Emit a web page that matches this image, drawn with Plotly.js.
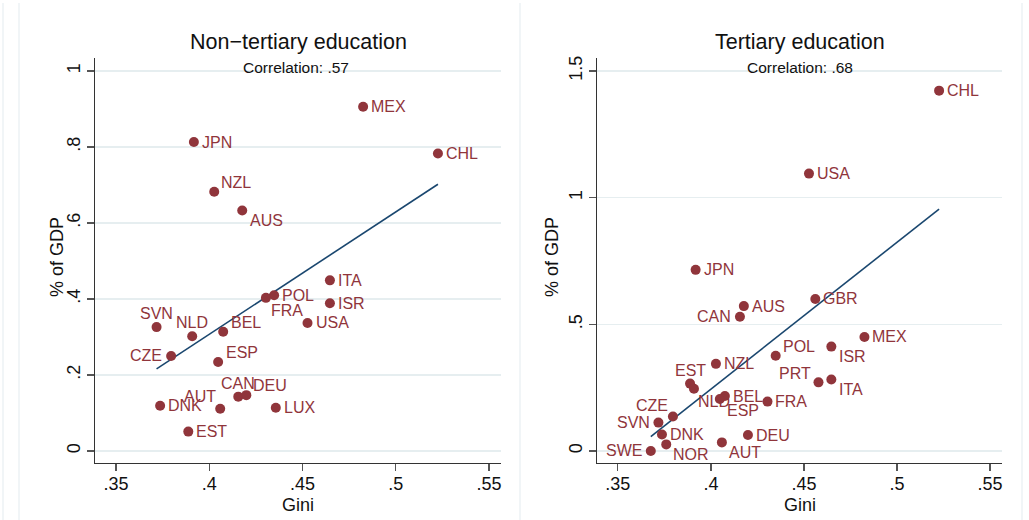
<!DOCTYPE html>
<html>
<head>
<meta charset="utf-8">
<script src="https://cdn.plot.ly/plotly-3.0.1.min.js"></script>
<style>
  html, body { margin: 0; padding: 0; background: #ffffff; }
  #chart { width: 1029px; height: 520px; }
</style>
</head>
<body>
<div id="chart"></div>
<script>
// Public spending on education (% of GDP) against income inequality (Gini)

// Non-tertiary education
const nonTertCountries = ["MEX", "JPN", "CHL", "NZL", "AUS", "ITA", "POL", "FRA", "ISR", "USA", "SVN",
                          "BEL", "NLD", "CZE", "ESP", "CAN", "DEU", "DNK", "AUT", "LUX", "EST"];
const nonTertGini = [0.4825, 0.3918, 0.5226, 0.4027, 0.4177, 0.4647, 0.4348, 0.4304, 0.4647, 0.4527, 0.3718,
                     0.4075, 0.3909, 0.3796, 0.4048, 0.4156, 0.4199, 0.3737, 0.4059, 0.4357, 0.3888];
const nonTertSpend = [0.906, 0.813, 0.783, 0.682, 0.633, 0.449, 0.410, 0.403, 0.389, 0.337, 0.326,
                      0.314, 0.302, 0.250, 0.234, 0.143, 0.147, 0.119, 0.111, 0.114, 0.051];
const nonTertFitGini = [0.3718, 0.5226];
const nonTertFitSpend = [0.216, 0.702];
const nonTertCorr = ".57";

// Tertiary education
const tertCountries = ["CHL", "USA", "JPN", "AUS", "GBR", "CAN", "MEX", "ISR", "POL", "NZL", "PRT", "ITA",
                       "EST", "NLD", "BEL", "ESP", "FRA", "CZE", "SVN", "DNK", "NOR", "SWE", "AUT", "DEU"];
const tertGini = [0.5226, 0.4527, 0.3918, 0.4177, 0.4561, 0.4156, 0.4825, 0.4647, 0.4348, 0.4027, 0.4578, 0.4647,
                  0.3888, 0.3909, 0.4075, 0.4048, 0.4304, 0.3796, 0.3718, 0.3737, 0.3760, 0.3677, 0.4059, 0.4199];
const tertSpend = [1.4225, 1.095, 0.715, 0.572, 0.600, 0.530, 0.450, 0.412, 0.376, 0.344, 0.271, 0.282,
                   0.266, 0.246, 0.217, 0.205, 0.195, 0.136, 0.112, 0.065, 0.026, 0.000, 0.034, 0.063];
const tertFitGini = [0.3677, 0.5226];
const tertFitSpend = [0.057, 0.955];
const tertCorr = ".68";

// Axis ticks
const giniTickVals = [0.35, 0.40, 0.45, 0.50, 0.55];
const giniTickText = [".35", ".4", ".45", ".5", ".55"];
const nonTertTickVals = [0, 0.2, 0.4, 0.6, 0.8, 1];
const nonTertTickText = ["0", ".2", ".4", ".6", ".8", "1"];
const tertTickVals = [0, 0.5, 1, 1.5];
const tertTickText = ["0", ".5", "1", "1.5"];

// ---- drawing ----
const FONT = "Liberation Sans, Arial, Helvetica, sans-serif";
const MAROON = "#90353b";
const NAVY = "#1a476f";
const GRID = "#e6eef0";
const INK = "#111111";

// marker-label placement: [anchor, dx, dy] in pixels (dy up); default is to the right
const RIGHT = ["left", 8, 0];
const nonTertPlacement = {
  NZL: ["left", 7, 9.5], AUS: ["left", 7.5, -10], FRA: ["left", 5, -12.5],
  SVN: ["center", 0, 14], NLD: ["center", 0, 13.5], BEL: ["left", 8, 9],
  CZE: ["right", -9, 0], ESP: ["left", 7.5, 9.5], CAN: ["center", 0, 13.5],
  DEU: ["left", 7, 9.5], AUT: ["right", -4.5, 12]
};
const tertPlacement = {
  CAN: ["right", -9, 0], ISR: ["left", 7.5, -10], POL: ["left", 7.5, 9],
  PRT: ["right", -7.5, 9], ITA: ["left", 7.5, -9.5], EST: ["center", 0, 13.5],
  NLD: ["left", 4.5, -13], ESP: ["left", 7.5, -11], CZE: ["right", -4.5, 11.5],
  SVN: ["right", -8.5, 0], NOR: ["left", 7, -10], SWE: ["right", -8.5, 0],
  AUT: ["left", 7, -10]
};

function markerTrace(gini, spend, xa, ya) {
  return {
    type: "scatter", mode: "markers", x: gini, y: spend,
    marker: { color: MAROON, size: 10, line: { width: 0 } },
    xaxis: xa, yaxis: ya, cliponaxis: false, hoverinfo: "skip"
  };
}
function fitTrace(gx, gy, xa, ya) {
  return {
    type: "scatter", mode: "lines", x: gx, y: gy,
    line: { color: NAVY, width: 1.6 }, xaxis: xa, yaxis: ya, hoverinfo: "skip"
  };
}
function markerLabels(countries, gini, spend, placement, xa, ya) {
  return countries.map((c, i) => {
    const p = placement[c] || RIGHT;
    return {
      text: c, x: gini[i], y: spend[i], xref: xa, yref: ya, showarrow: false,
      xanchor: p[0], yanchor: "middle", xshift: p[1], yshift: p[2],
      borderpad: 0, borderwidth: 0,
      font: { family: FONT, size: 16, color: MAROON }
    };
  });
}

const W = 1029, H = 520;
const yDom = [1 - 463 / H, 1 - 58 / H];
const xDom1 = [95 / W, 501 / W];
const xDom2 = [597 / W, 1002 / W];
const mid = d => (d[0] + d[1]) / 2;

const xCommon = {
  range: [0.3388, 0.5564], tickmode: "array", tickvals: giniTickVals, ticktext: giniTickText,
  showgrid: false, zeroline: false, showline: true, linecolor: "#333", linewidth: 1.2,
  ticks: "outside", ticklen: 7, tickcolor: "#555", tickwidth: 1.2, ticklabelstandoff: -3,
  tickfont: { family: FONT, size: 18, color: INK },
  automargin: false, fixedrange: true
};
const yCommon = {
  tickmode: "array", showgrid: true, gridcolor: GRID, gridwidth: 1.2,
  zeroline: false, showline: true, linecolor: "#333", linewidth: 1.2,
  ticks: "outside", ticklen: 7, tickcolor: "#555", tickwidth: 1.2, tickangle: -90,
  tickfont: { family: FONT, size: 18, color: INK },
  automargin: false, fixedrange: true
};

function textNote(text, x, y, size, angle) {
  return { text: text, xref: "paper", yref: "paper", x: x, y: y, showarrow: false,
           textangle: angle || 0, xanchor: "center", yanchor: "middle",
           borderpad: 0, borderwidth: 0, font: { family: FONT, size: size, color: INK } };
}

const annotations = [
  textNote("Non\u2212tertiary education", mid(xDom1), 1 - 42 / H, 21.5),
  textNote("Tertiary education", mid(xDom2), 1 - 42 / H, 21.5),
  textNote("Correlation: " + nonTertCorr, mid(xDom1) - 2 / W, 1 - 68 / H, 15.5),
  textNote("Correlation: " + tertCorr, mid(xDom2), 1 - 68 / H, 15.5),
  textNote("Gini", mid(xDom1), 1 - 505 / H, 18),
  textNote("Gini", mid(xDom2), 1 - 505 / H, 18),
  textNote("% of GDP", 57 / W, 1 - 257 / H, 18, -90),
  textNote("% of GDP", 552 / W, 1 - 257 / H, 18, -90)
].concat(
  markerLabels(nonTertCountries, nonTertGini, nonTertSpend, nonTertPlacement, "x", "y"),
  markerLabels(tertCountries, tertGini, tertSpend, tertPlacement, "x2", "y2")
);

const layout = {
  width: W, height: H, autosize: false,
  margin: { l: 0, r: 0, t: 0, b: 0, pad: 0 },
  paper_bgcolor: "#ffffff", plot_bgcolor: "#ffffff",
  showlegend: false,
  xaxis: Object.assign({}, xCommon, { domain: xDom1, anchor: "y" }),
  yaxis: Object.assign({}, yCommon, { domain: yDom, anchor: "x",
    range: [-0.0316, 1.0342], tickvals: nonTertTickVals, ticktext: nonTertTickText }),
  xaxis2: Object.assign({}, xCommon, { domain: xDom2, anchor: "y2" }),
  yaxis2: Object.assign({}, yCommon, { domain: yDom, anchor: "x2",
    range: [-0.0474, 1.5513], tickvals: tertTickVals, ticktext: tertTickText }),
  annotations: annotations,
  // light frames around the two panels
  shapes: [3, 19, 520, 1022].map(px => ({
    type: "line", xref: "paper", yref: "paper", x0: px / W, x1: px / W, y0: 0, y1: 1 - 3 / H,
    line: { color: "#edf2f4", width: 1.5 }, layer: "below"
  }))
};

const data = [
  fitTrace(nonTertFitGini, nonTertFitSpend, "x", "y"),
  markerTrace(nonTertGini, nonTertSpend, "x", "y"),
  fitTrace(tertFitGini, tertFitSpend, "x2", "y2"),
  markerTrace(tertGini, tertSpend, "x2", "y2")
];

Plotly.newPlot("chart", data, layout, { staticPlot: true, displayModeBar: false });
</script>
</body>
</html>
